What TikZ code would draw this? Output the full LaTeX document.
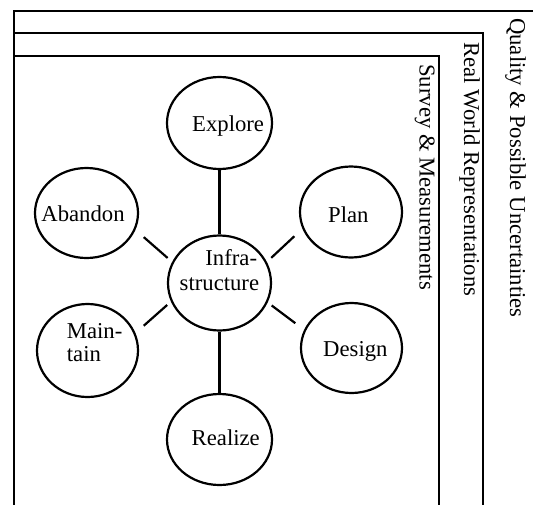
\documentclass[tikz,border=0pt]{standalone}
\usepackage{fontspec}
\setmainfont{Liberation Serif}
\usetikzlibrary{shapes.geometric}
\begin{document}
\begin{tikzpicture}[x=1pt,y=-1pt,
  every node/.style={font=\fontsize{22.7}{25}\selectfont},
  bubble/.style={draw, ellipse, line width=2.2pt, inner sep=0pt},
  lbl/.style={inner sep=0pt, anchor=base west},
  vlbl/.style={inner sep=0pt, anchor=base west, rotate=-90},
  frame/.style={draw, line width=2.2pt},
  link/.style={line width=2.2pt}]
\useasboundingbox (0,0) rectangle (533,504);
\clip (0,0) rectangle (533,504);
\fill[white] (0,0) rectangle (533,504);
% frames
\draw[frame] (14,520) -- (14,11) -- (537,11) -- (537,520);
\draw[frame] (14,33) -- (483,33) -- (483,520);
\draw[frame] (14,56) -- (439,56) -- (439,520);
\node[vlbl] (q) at (510,18) {Quality \& Possible Uncertainties};
\node[vlbl] (r) at (464,42) {Real World Representations};
\node[vlbl] (s) at (419.5,64) {Survey \& Measurements};
% bubbles
\node[bubble, minimum width=105pt, minimum height=92pt] (explore) at (219.5,123) {};
\node[bubble, minimum width=103pt, minimum height=90pt] (abandon) at (86.5,213) {};
\node[bubble, minimum width=102pt, minimum height=91pt] (plan) at (351,212) {};
\node[bubble, minimum width=103pt, minimum height=95pt] (infra) at (219.5,283) {};
\node[bubble, minimum width=101pt, minimum height=93pt] (maintain) at (87.5,350.5) {};
\node[bubble, minimum width=101pt, minimum height=90pt] (design) at (351.5,348) {};
\node[bubble, minimum width=105pt, minimum height=91pt] (realize) at (219.5,439.5) {};
% texts
\node[lbl] (explore-t) at (192,131) {Explore};
\node[lbl] (abandon-t) at (41.2,221.7) {Abandon};
\node[lbl] (plan-t) at (328,222.7) {Plan};
\node[lbl] (main-t) at (66.7,338.3) {Main-};
\node[lbl] (tain-t) at (66.7,361.7) {tain};
\node[lbl] (design-t) at (323,356) {Design};
\node[lbl] (realize-t) at (191.5,445.7) {Realize};
\node[lbl] (infra-t) at (205.2,265.7) {Infra-};
\node[lbl] (struct-t) at (179.5,290.7) {structure};
% links
\draw[link] (explore.south) -- (infra.north);
\draw[link] (infra.south) -- (realize.north);
\draw[link, shorten <=11pt, shorten >=6pt] (abandon.-19) -- (infra.156);
\draw[link, shorten <=11pt, shorten >=5pt] (maintain.20.5) -- (infra.201.7);
\draw[link, shorten <=11pt, shorten >=6pt] (plan.199) -- (infra.24);
\draw[link, shorten <=11pt, shorten >=5pt] (design.159.5) -- (infra.338.3);
\end{tikzpicture}
\end{document}
